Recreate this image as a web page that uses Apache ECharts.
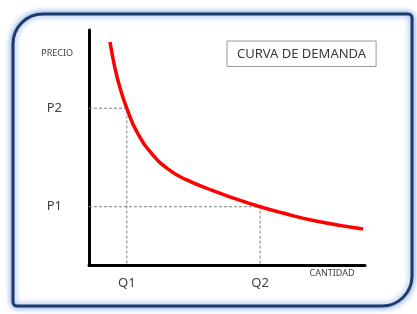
<!DOCTYPE html>
<html>
<head>
  <meta charset="utf-8">
  <title>Curva de demanda</title>
  <style>
    html, body { margin: 0; padding: 0; background: #fff; }
  </style>
</head>
<body>
  <div id="main" style="width: 417px;height:314px;"></div>
</body>
<script src="https://cdn.jsdelivr.net/npm/echarts@6/dist/echarts.min.js"></script>
<script>
let myChart = echarts.init(document.querySelector('#main'))

// curva (cantidad, precio)
let cantidad = [7.6, 9.4, 11.2, 13.7, 17.4, 23.2, 29.3, 35.4, 44.9, 53.5, 62.0, 70.3, 82.6, 99.3]
let precio   = [94.9, 83.8, 75.5, 66.7, 56.5, 46.8, 40.3, 36.2, 31.6, 28.0, 24.8, 22.1, 18.6, 15.3]

// puntos marcados
let qValues = [13.7, 62.0]
let qLabels = ['Q1', 'Q2']
let pValues = [24.8, 66.7]
let pLabels = ['P1', 'P2']

let curve = cantidad.map((q, i) => [q, precio[i]])

let font = 'Noto Sans'

let guide = (q, p) => ({
    type: 'line',
    silent: true,
    symbol: 'none',
    lineStyle: { color: '#7f7f7f', width: 1, type: [3, 2] },
    data: [[0, p], [q, p], [q, 0]],
    z: 1
})

let option = {
    animation: false,
    textStyle: { fontFamily: font },
    graphic: [{
        type: 'rect',
        shape: { x: 13, y: 14, width: 399, height: 292, r: [30, 4, 30, 4] },
        style: {
            fill: '#fff',
            stroke: '#1f3a6b',
            lineWidth: 3,
            shadowBlur: 6,
            shadowColor: 'rgba(90,140,220,0.9)'
        },
        z: -10
    }],
    legend: {
        left: 227,
        top: 41,
        icon: 'none',
        itemWidth: 0,
        itemGap: 0,
        padding: [6, 10, 6, 5],
        borderColor: '#9a9a9a',
        borderWidth: 1,
        textStyle: { fontFamily: font, fontSize: 13, color: '#3a3a3a' },
        data: ['CURVA DE DEMANDA']
    },
    grid: { left: 89, right: 52, top: 30, bottom: 49 },
    xAxis: {
        type: 'value',
        min: 0,
        max: 100,
        name: 'CANTIDAD',
        nameLocation: 'end',
        nameGap: -33,
        nameTextStyle: { fontSize: 9, color: '#404040', align: 'center', verticalAlign: 'top', padding: [4, 0, 0, 0] },
        axisLine: { lineStyle: { color: '#000', width: 3 } },
        axisTick: { show: false },
        splitLine: { show: false },
        axisLabel: {
            customValues: qValues,
            formatter: v => qLabels[qValues.indexOf(v)],
            margin: 12,
            fontSize: 13,
            color: '#404040'
        }
    },
    yAxis: {
        type: 'value',
        min: 0,
        max: 100,
        name: 'PRECIO',
        nameLocation: 'end',
        nameGap: -28,
        nameTextStyle: { fontSize: 9, color: '#404040', align: 'right', padding: [0, 16, 0, 0] },
        axisLine: { show: true, lineStyle: { color: '#000', width: 3 } },
        axisTick: { show: false },
        splitLine: { show: false },
        axisLabel: {
            customValues: pValues,
            formatter: v => pLabels[pValues.indexOf(v)],
            margin: 27,
            fontSize: 13,
            color: '#404040'
        }
    },
    series: [
        guide(qValues[0], pValues[1]),
        guide(qValues[1], pValues[0]),
        {
            name: 'CURVA DE DEMANDA',
            type: 'line',
            smooth: true,
            symbol: 'none',
            lineStyle: { color: '#ff0000', width: 3.5 },
            itemStyle: { color: '#ff0000' },
            data: curve,
            z: 3
        }
    ]
};
myChart.setOption(option);
</script>
</html>
